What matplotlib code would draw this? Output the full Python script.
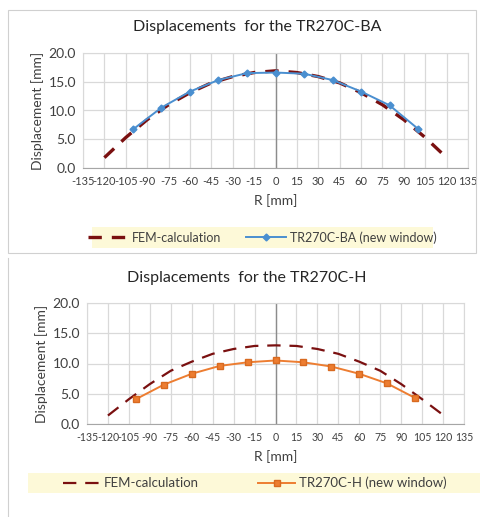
import matplotlib
matplotlib.use("Agg")
import matplotlib.pyplot as plt
from matplotlib.lines import Line2D
from matplotlib.patches import Rectangle

plt.rcParams['font.family'] = ['Lato', 'DejaVu Sans']

# ---- data ----
fem_r = [-120, -105, -90, -75, -60, -45, -30, -15, 0, 15, 30, 45, 60, 75, 90, 105, 120]
fem_ba = [1.8, 5.3, 8.4, 11.0, 13.1, 14.8, 15.9, 16.6, 16.9, 16.6, 15.9, 14.8, 13.1, 11.0, 8.4, 5.3, 1.8]
fem_h = [1.4, 4.1, 6.6, 8.8, 10.3, 11.6, 12.4, 12.9, 13.0, 12.9, 12.4, 11.6, 10.3, 8.8, 6.6, 4.1, 1.5]

meas_r = [-100, -80, -60, -40, -20, 0, 20, 40, 60, 80, 100]
meas_ba = [6.7, 10.5, 13.3, 15.3, 16.5, 16.6, 16.4, 15.3, 13.3, 10.9, 6.8]
meas_h = [4.1, 6.5, 8.3, 9.6, 10.2, 10.5, 10.2, 9.5, 8.3, 6.7, 4.3]

x_ticks = list(range(-135, 136, 15))
y_ticks = [0, 5, 10, 15, 20]

titles = ["Displacements  for the TR270C-BA", "Displacements  for the TR270C-H"]
meas_labels = ["TR270C-BA (new window)", "TR270C-H (new window)"]

W, H = 480, 517
fig = plt.figure(figsize=(W / 100, H / 100), dpi=100)
fig.patch.set_facecolor('white')

def px_axes(l, t, r, b):
    return fig.add_axes([l / W, 1 - b / H, (r - l) / W, (b - t) / H])

FEM_COL = '#7a1010'
TXT = '#404040'
GRID = '#d9d9d9'

def style(ax, xfs):
    ax.set_xlim(-135, 135)
    ax.set_ylim(0, 20)
    ax.set_xticks(x_ticks)
    ax.set_xticklabels([str(v) for v in x_ticks])
    ax.set_yticks(y_ticks)
    ax.set_yticklabels([f"{v:.1f}" for v in y_ticks])
    ax.grid(True, color=GRID, lw=0.9)
    ax.set_axisbelow(True)
    ax.axvline(0, color='#8c8c8c', lw=1.0, zorder=1)
    for s in ['top', 'right', 'left']:
        ax.spines[s].set_color(GRID)
    ax.spines['bottom'].set_color('#a6a6a6')
    ax.tick_params(axis='y', length=0, labelsize=10, colors=TXT, pad=5)
    ax.tick_params(axis='x', length=0, labelsize=xfs, colors=TXT, pad=6)
    ax.set_xlabel("R [mm]", fontsize=10, color=TXT, labelpad=5)
    ax.set_ylabel("Displacement [mm]", fontsize=10, color=TXT, labelpad=3)

# ---- top chart ----
fig.add_artist(Rectangle((8 / W, 1 - 253 / H), 468 / W, 243 / H, transform=fig.transFigure,
                         fill=False, edgecolor='#d0d0d0', lw=0.8))
ax1 = px_axes(83, 53, 468, 168)
style(ax1, 8)
ax1.plot(fem_r, fem_ba, color=FEM_COL, lw=2.4, dashes=(4, 3), zorder=3)
ax1.plot(meas_r, meas_ba, color='#4a8fd0', lw=1.4, marker='D', ms=3.5, zorder=4)
fig.text(257 / W, 1 - 27 / H, titles[0], ha='center', va='center', fontsize=11.5, color='#262626')

fig.add_artist(Rectangle((92 / W, 1 - 248 / H), 341 / W, 21 / H, transform=fig.transFigure,
                         facecolor='#fdf9d8', edgecolor='none'))
h1 = [Line2D([], [], color=FEM_COL, lw=2.4, dashes=(4, 3)),
      Line2D([], [], color='#4a8fd0', lw=1.4, marker='D', ms=3.5)]
fig.legend(h1, ["FEM-calculation", meas_labels[0]], loc='center', bbox_to_anchor=(262 / W, 1 - 237.5 / H),
           ncol=2, frameon=False, fontsize=9, handlelength=3.2, columnspacing=2.0, labelcolor=TXT,
           handletextpad=0.3)

# ---- bottom chart ----
fig.add_artist(Line2D([8 / W, 8 / W], [0, 1 - 258 / H], transform=fig.transFigure, color='#d0d0d0', lw=0.8))
ax2 = px_axes(87, 303, 464, 424)
style(ax2, 7.6)
ax2.plot(fem_r, fem_h, color=FEM_COL, lw=1.6, dashes=(6, 4), zorder=3)
ax2.plot(meas_r, meas_h, color='#ed7d31', lw=1.4, marker='s', ms=5, mec='#d86a20', zorder=4)
fig.text(247 / W, 1 - 278 / H, titles[1], ha='center', va='center', fontsize=11.5, color='#262626')

fig.add_artist(Rectangle((28 / W, 1 - 493 / H), 452 / W, 20 / H, transform=fig.transFigure,
                         facecolor='#fdf9d8', edgecolor='none'))
h2 = [Line2D([], [], color=FEM_COL, lw=1.6, dashes=(6, 4)),
      Line2D([], [], color='#ed7d31', lw=1.4, marker='s', ms=5, mec='#d86a20')]
fig.legend(h2, ["FEM-calculation", meas_labels[1]], loc='center', bbox_to_anchor=(255 / W, 1 - 483 / H),
           ncol=2, frameon=False, fontsize=9.5, handlelength=2.8, columnspacing=4.5, labelcolor=TXT,
           handletextpad=0.3)

fig.savefig("out.png", dpi=100)
